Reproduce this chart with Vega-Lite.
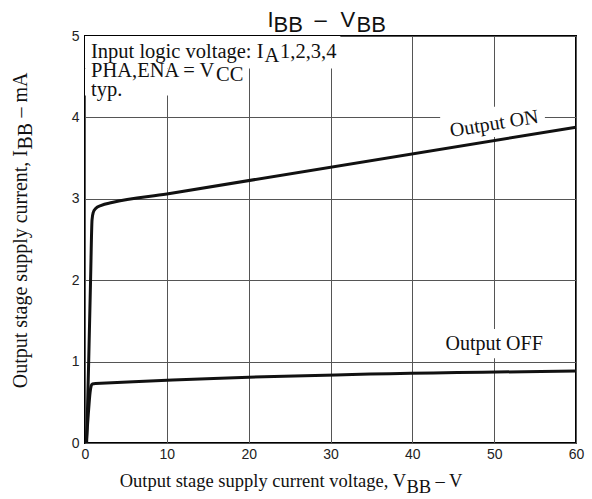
{
  "$schema": "https://vega.github.io/schema/vega-lite/v6.json",
  "width": 491,
  "height": 407,
  "autosize": "none",
  "padding": {"left": 85, "top": 36, "right": 16, "bottom": 56},
  "background": "white",
  "config": {
    "view": {"stroke": "#000", "strokeWidth": 2},
    "axis": {
      "labelFont": "Liberation Sans",
      "labelFontSize": 14,
      "labelColor": "#222",
      "ticks": false,
      "domain": false,
      "grid": true,
      "gridColor": "#555",
      "gridWidth": 1,
      "gridOpacity": 1,
      "title": null,
      "format": "d",
      "labelFlush": false
    },
    "axisX": {"labelPadding": 4},
    "axisY": {"labelPadding": 6},
    "text": {"font": "Liberation Serif", "color": "#111", "baseline": "alphabetic"},
    "rect": {"color": "white", "strokeWidth": 0}
  },
  "datasets": {
    "curves": [
      {"series": "Output ON", "V": 0.2, "I": 0.0},
      {"series": "Output ON", "V": 0.45, "I": 1.0},
      {"series": "Output ON", "V": 0.68, "I": 2.0},
      {"series": "Output ON", "V": 0.86, "I": 2.74},
      {"series": "Output ON", "V": 1.0, "I": 2.83},
      {"series": "Output ON", "V": 1.3, "I": 2.88},
      {"series": "Output ON", "V": 2.0, "I": 2.92},
      {"series": "Output ON", "V": 3.3, "I": 2.955},
      {"series": "Output ON", "V": 10, "I": 3.06},
      {"series": "Output ON", "V": 60, "I": 3.88},
      {"series": "Output OFF", "V": 0.15, "I": 0.0},
      {"series": "Output OFF", "V": 0.4, "I": 0.35},
      {"series": "Output OFF", "V": 0.62, "I": 0.62},
      {"series": "Output OFF", "V": 0.75, "I": 0.7},
      {"series": "Output OFF", "V": 0.9, "I": 0.725},
      {"series": "Output OFF", "V": 1.3, "I": 0.73},
      {"series": "Output OFF", "V": 60, "I": 0.885}
    ]
  },
  "data": {"values": [{"note": "text"}]},
  "layer": [
    {"mark": {"type": "rect"},
     "encoding": {
       "x": {"datum": 0, "type": "quantitative", "scale": {"domain": [0, 60], "nice": false, "zero": false},
             "axis": {"values": [0, 10, 20, 30, 40, 50, 60], "grid": true}},
       "x2": {"datum": 31.2},
       "y": {"datum": 4.6, "type": "quantitative", "scale": {"domain": [0, 5], "nice": false},
             "axis": {"values": [0, 1, 2, 3, 4, 5], "grid": true}},
       "y2": {"datum": 5}}},
    {"mark": {"type": "rect"},
     "encoding": {"x": {"datum": 0}, "x2": {"datum": 19.8}, "y": {"datum": 4.27}, "y2": {"datum": 4.6}}},
    {"mark": {"type": "rect"},
     "encoding": {"x": {"datum": 43.4}, "x2": {"datum": 56.2}, "y": {"datum": 3.76}, "y2": {"datum": 4.13}}},
    {"mark": {"type": "rect"},
     "encoding": {"x": {"datum": 43.0}, "x2": {"datum": 57.0}, "y": {"datum": 1.04}, "y2": {"datum": 1.40}}},
    {
      "data": {"name": "curves"},
      "mark": {"type": "line", "color": "#111", "strokeWidth": 3, "interpolate": "monotone"},
      "encoding": {
        "x": {"field": "V", "type": "quantitative"},
        "y": {"field": "I", "type": "quantitative"},
        "detail": {"field": "series"}
      }
    },
    {"mark": {"type": "text", "align": "left", "dx": 6, "dy": 22, "fontSize": 20.5},
     "encoding": {"x": {"datum": 0}, "y": {"datum": 5}, "text": {"value": "Input logic voltage: I"}}},
    {"mark": {"type": "text", "align": "left", "dx": 179.5, "dy": 26, "fontSize": 20.5},
     "encoding": {"x": {"datum": 0}, "y": {"datum": 5}, "text": {"value": "A"}}},
    {"mark": {"type": "text", "align": "left", "dx": 195, "dy": 22, "fontSize": 20.5},
     "encoding": {"x": {"datum": 0}, "y": {"datum": 5}, "text": {"value": "1,2,3,4"}}},
    {"mark": {"type": "text", "align": "left", "dx": 6, "dy": 41, "fontSize": 20.5},
     "encoding": {"x": {"datum": 0}, "y": {"datum": 5}, "text": {"value": "PHA,ENA = V"}}},
    {"mark": {"type": "text", "align": "left", "dx": 131, "dy": 45, "fontSize": 20.5},
     "encoding": {"x": {"datum": 0}, "y": {"datum": 5}, "text": {"value": "CC"}}},
    {"mark": {"type": "text", "align": "left", "dx": 6, "dy": 60, "fontSize": 20.5},
     "encoding": {"x": {"datum": 0}, "y": {"datum": 5}, "text": {"value": "typ."}}},
    {"mark": {"type": "text", "align": "center", "baseline": "middle", "angle": -9.3, "fontSize": 20},
     "encoding": {"x": {"datum": 50}, "y": {"datum": 3.92}, "text": {"value": "Output ON"}}},
    {"mark": {"type": "text", "align": "center", "fontSize": 20},
     "encoding": {"x": {"datum": 50}, "y": {"datum": 1.14}, "text": {"value": "Output OFF"}}},
    {"mark": {"type": "text", "align": "left", "font": "Liberation Sans", "fontSize": 22, "dx": -63, "dy": -9},
     "encoding": {"x": {"datum": 30}, "y": {"datum": 5}, "text": {"value": "I"}}},
    {"mark": {"type": "text", "align": "left", "font": "Liberation Sans", "fontSize": 22, "dx": -57, "dy": -4},
     "encoding": {"x": {"datum": 30}, "y": {"datum": 5}, "text": {"value": "BB"}}},
    {"mark": {"type": "text", "align": "left", "font": "Liberation Sans", "fontSize": 22, "dx": -16, "dy": -9},
     "encoding": {"x": {"datum": 30}, "y": {"datum": 5}, "text": {"value": "–"}}},
    {"mark": {"type": "text", "align": "left", "font": "Liberation Sans", "fontSize": 22, "dx": 10, "dy": -9},
     "encoding": {"x": {"datum": 30}, "y": {"datum": 5}, "text": {"value": "V"}}},
    {"mark": {"type": "text", "align": "left", "font": "Liberation Sans", "fontSize": 22, "dx": 26, "dy": -4},
     "encoding": {"x": {"datum": 30}, "y": {"datum": 5}, "text": {"value": "BB"}}},
    {"mark": {"type": "text", "align": "right", "fontSize": 18.5, "dx": 75.5, "dy": 44},
     "encoding": {"x": {"datum": 30}, "y": {"datum": 0}, "text": {"value": "Output stage supply current voltage, V"}}},
    {"mark": {"type": "text", "align": "left", "fontSize": 18.5, "dx": 76, "dy": 50},
     "encoding": {"x": {"datum": 30}, "y": {"datum": 0}, "text": {"value": "BB"}}},
    {"mark": {"type": "text", "align": "left", "fontSize": 18.5, "dx": 105, "dy": 44},
     "encoding": {"x": {"datum": 30}, "y": {"datum": 0}, "text": {"value": "– V"}}},
    {"mark": {"type": "text", "align": "right", "angle": 270, "fontSize": 20, "dx": 89.5, "dy": -58},
     "encoding": {"x": {"datum": 0}, "y": {"datum": 2.5}, "text": {"value": "Output stage supply current, I"}}},
    {"mark": {"type": "text", "align": "left", "angle": 270, "fontSize": 20, "dx": 90, "dy": -53},
     "encoding": {"x": {"datum": 0}, "y": {"datum": 2.5}, "text": {"value": "BB"}}},
    {"mark": {"type": "text", "align": "left", "angle": 270, "fontSize": 20, "dx": 122, "dy": -58},
     "encoding": {"x": {"datum": 0}, "y": {"datum": 2.5}, "text": {"value": "– mA"}}}
  ]
}
